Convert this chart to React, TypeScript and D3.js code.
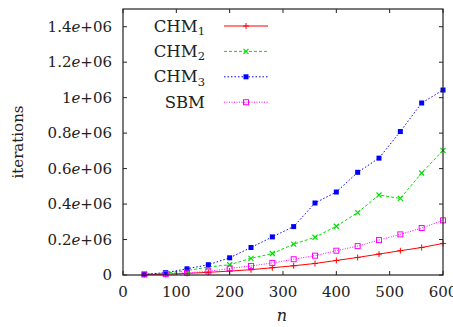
import React, { useEffect, useRef } from 'react';
import * as d3 from 'd3';

// problem sizes
const sizes = [40, 80, 120, 160, 200, 240, 280, 320, 360, 400, 440, 480, 520, 560, 600];

// iterations per method
const chm1 = [2000, 4000, 9000, 15000, 22000, 30000, 41000, 52000, 65000, 82000, 99000, 118000, 137000, 155000, 178000];
const chm2 = [4000, 11000, 25000, 45000, 58000, 94000, 121000, 174000, 213000, 275000, 352000, 451000, 432000, 575000, 703000];
const chm3 = [4000, 13000, 35000, 58000, 97000, 155000, 215000, 273000, 406000, 468000, 579000, 659000, 809000, 970000, 1043000];
const sbm = [3000, 5000, 13000, 20000, 37000, 51000, 68000, 89000, 109000, 137000, 163000, 197000, 229000, 265000, 308000];

const xTicks = [0, 100, 200, 300, 400, 500, 600];
const yTicks = [0, 200000, 400000, 600000, 800000, 1000000, 1200000, 1400000];
const yTickMant = ['0', '0.2', '0.4', '0.6', '0.8', '1', '1.2', '1.4'];

const seriesNames = ['CHM', 'CHM', 'CHM', 'SBM'];
const seriesSubs = ['1', '2', '3', ''];

const App = () => {
  const ref = useRef<SVGSVGElement>(null);

  useEffect(() => {
    const width = 453;
    const height = 327;
    const margin = { top: 9, right: 10, bottom: 52, left: 123 };
    const svg = d3.select(ref.current);
    svg.selectAll('*').remove();

    const x = d3.scaleLinear().domain([0, 600]).range([margin.left, width - margin.right]);
    const y = d3.scaleLinear().domain([0, 1500000]).range([height - margin.bottom, margin.top]);

    const font = 'DejaVu Serif, serif';

    const series = [
      { values: chm1, color: '#ff0000', dash: null, marker: 'plus' },
      { values: chm2, color: '#00e000', dash: '3,2', marker: 'cross' },
      { values: chm3, color: '#0000ff', dash: '1.5,2', marker: 'fsquare' },
      { values: sbm, color: '#ff00ff', dash: '1,1.5', marker: 'osquare' },
    ];

    const drawMarker = (g: any, kind: string, cx: number, cy: number, color: string) => {
      if (kind === 'plus') {
        g.append('path').attr('d', `M${cx - 3},${cy}H${cx + 3}M${cx},${cy - 3}V${cy + 3}`)
          .attr('stroke', color).attr('stroke-width', 1);
      } else if (kind === 'cross') {
        g.append('path').attr('d', `M${cx - 2.5},${cy - 2.5}L${cx + 2.5},${cy + 2.5}M${cx - 2.5},${cy + 2.5}L${cx + 2.5},${cy - 2.5}`)
          .attr('stroke', color).attr('stroke-width', 1.2);
      } else if (kind === 'fsquare') {
        g.append('rect').attr('x', cx - 2.5).attr('y', cy - 2.5).attr('width', 5).attr('height', 5)
          .attr('fill', color);
      } else {
        g.append('rect').attr('x', cx - 2.5).attr('y', cy - 2.5).attr('width', 5).attr('height', 5)
          .attr('fill', 'none').attr('stroke', color).attr('stroke-width', 1);
      }
    };

    // lines and points
    series.forEach((s) => {
      const line = d3.line<number>().x((_, i) => x(sizes[i])).y((d) => y(d));
      svg.append('path').attr('d', line(s.values))
        .attr('fill', 'none').attr('stroke', s.color).attr('stroke-width', 1)
        .attr('stroke-dasharray', s.dash);
      const g = svg.append('g');
      s.values.forEach((v, i) => drawMarker(g, s.marker, x(sizes[i]), y(v), s.color));
    });

    // frame
    const x0 = x(0), x1 = x(600), yb = y(0), yt = margin.top;
    svg.append('rect').attr('x', x0).attr('y', yt).attr('width', x1 - x0).attr('height', yb - yt)
      .attr('fill', 'none').attr('stroke', '#222').attr('stroke-width', 1.2);

    // x ticks
    xTicks.forEach((t) => {
      svg.append('path').attr('d', `M${x(t)},${yb}v-4M${x(t)},${yt}v4`).attr('stroke', '#222');
      svg.append('text').attr('x', x(t)).attr('y', yb + 22).attr('text-anchor', 'middle')
        .attr('font-family', font).attr('font-size', 15).attr('fill', '#222').text(t);
    });

    // y ticks
    yTicks.forEach((t, i) => {
      svg.append('path').attr('d', `M${x0},${y(t)}h4M${x1},${y(t)}h-4`).attr('stroke', '#222');
      const txt = svg.append('text').attr('x', x0 - 11).attr('y', y(t) + 5).attr('text-anchor', 'end')
        .attr('font-family', font).attr('font-size', 15).attr('fill', '#222');
      if (t === 0) {
        txt.text('0');
      } else {
        txt.append('tspan').text(yTickMant[i]);
        txt.append('tspan').attr('font-style', 'italic').text('e');
        txt.append('tspan').text('+06');
      }
    });

    // axis titles
    svg.append('text').attr('transform', `translate(23,${(yt + yb) / 2}) rotate(-90)`)
      .attr('text-anchor', 'middle').attr('font-family', font).attr('font-size', 15).attr('fill', '#222')
      .text('iterations');
    svg.append('text').attr('x', 282).attr('y', 321).attr('text-anchor', 'middle')
      .attr('font-family', font).attr('font-style', 'italic').attr('font-size', 16).attr('fill', '#222').text('n');

    // legend
    series.forEach((s, i) => {
      const ly = 26 + i * 25.4;
      const t = svg.append('text').attr('x', 205).attr('y', ly + 5.5).attr('text-anchor', 'end')
        .attr('font-family', font).attr('font-size', 16.5).attr('fill', '#222');
      t.append('tspan').text(seriesNames[i]);
      if (seriesSubs[i]) t.append('tspan').attr('font-size', 11.5).attr('dy', 3.5).text(seriesSubs[i]);
      svg.append('path').attr('d', `M224,${ly}H268`).attr('stroke', s.color).attr('stroke-width', 1)
        .attr('stroke-dasharray', s.dash);
      drawMarker(svg.append('g'), s.marker, 246, ly, s.color);
    });
  }, []);

  return <svg ref={ref} width={453} height={327} style={{ position: 'absolute', left: 0, top: 0 }} />;
};

export default App;
